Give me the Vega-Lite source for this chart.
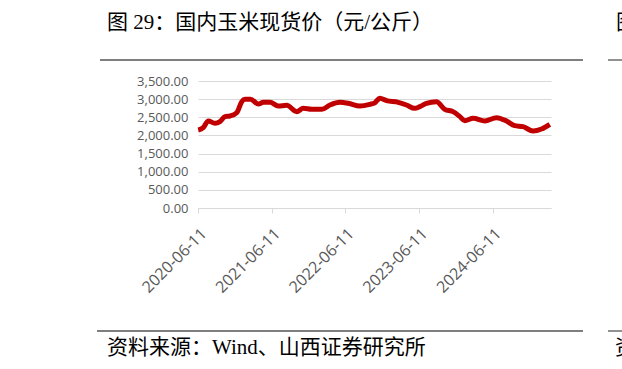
{
  "$schema": "https://vega.github.io/schema/vega-lite/v6.json",
  "autosize": "none",
  "width": 353,
  "height": 127,
  "padding": {"left": 198, "top": 81, "right": 71, "bottom": 161},
  "background": "white",
  "config": {"view": {"stroke": null}},
  "layer": [
    {
      "data": {"values": [
        {"date": "2020-06-12", "price": 2150},
        {"date": "2020-07-07", "price": 2213},
        {"date": "2020-08-01", "price": 2398},
        {"date": "2020-09-03", "price": 2334},
        {"date": "2020-09-28", "price": 2380},
        {"date": "2020-10-23", "price": 2518},
        {"date": "2020-11-17", "price": 2536},
        {"date": "2020-12-20", "price": 2627},
        {"date": "2021-01-14", "price": 2930},
        {"date": "2021-01-30", "price": 2995},
        {"date": "2021-02-27", "price": 2995},
        {"date": "2021-04-06", "price": 2866},
        {"date": "2021-05-01", "price": 2912},
        {"date": "2021-06-03", "price": 2912},
        {"date": "2021-07-14", "price": 2811},
        {"date": "2021-08-25", "price": 2830},
        {"date": "2021-10-14", "price": 2655},
        {"date": "2021-11-15", "price": 2747},
        {"date": "2021-12-27", "price": 2720},
        {"date": "2022-02-15", "price": 2720},
        {"date": "2022-03-28", "price": 2839},
        {"date": "2022-05-16", "price": 2912},
        {"date": "2022-06-27", "price": 2885},
        {"date": "2022-08-23", "price": 2811},
        {"date": "2022-10-11", "price": 2857},
        {"date": "2022-11-05", "price": 2900},
        {"date": "2022-11-30", "price": 3023},
        {"date": "2023-01-02", "price": 2958},
        {"date": "2023-03-01", "price": 2912},
        {"date": "2023-04-11", "price": 2839},
        {"date": "2023-05-22", "price": 2747},
        {"date": "2023-06-16", "price": 2793},
        {"date": "2023-07-19", "price": 2885},
        {"date": "2023-09-07", "price": 2930},
        {"date": "2023-10-18", "price": 2720},
        {"date": "2023-11-28", "price": 2655},
        {"date": "2024-01-01", "price": 2518},
        {"date": "2024-01-25", "price": 2407},
        {"date": "2024-03-07", "price": 2472},
        {"date": "2024-05-04", "price": 2398},
        {"date": "2024-07-01", "price": 2490},
        {"date": "2024-08-19", "price": 2398},
        {"date": "2024-09-29", "price": 2269},
        {"date": "2024-11-09", "price": 2241},
        {"date": "2024-12-29", "price": 2122},
        {"date": "2025-02-09", "price": 2177},
        {"date": "2025-03-22", "price": 2306}
      ]},
      "mark": {"type": "line", "color": "#C00000", "strokeWidth": 5, "interpolate": "monotone"},
      "encoding": {
        "x": {
          "field": "date", "type": "temporal",
          "scale": {"domain": ["2020-06-11", "2025-03-28"]},
          "axis": {
            "title": null,
            "values": ["2020-06-11", "2021-06-11", "2022-06-11", "2023-06-11", "2024-06-11"],
            "format": "%Y-%m-%d",
            "labelAngle": -45,
            "labelFont": "Open Sans",
            "labelFontSize": 16,
            "labelColor": "#595959",
            "labelPadding": 12,
            "tickColor": "#d9d9d9",
            "tickSize": 5,
            "domainColor": "#d9d9d9",
            "grid": false,
            "labelFlush": false,
            "labelOverlap": false
          }
        },
        "y": {
          "field": "price", "type": "quantitative",
          "scale": {"domain": [0, 3500]},
          "axis": {
            "title": null,
            "values": [0, 500, 1000, 1500, 2000, 2500, 3000, 3500],
            "format": ",.2f",
            "labelFont": "Open Sans",
            "labelFontSize": 13,
            "labelColor": "#595959",
            "labelPadding": 10,
            "ticks": false,
            "domain": false,
            "grid": true,
            "gridColor": "#d9d9d9",
            "gridWidth": 1
          }
        }
      }
    },
    {
      "data": {"values": [
        {"x1": -98, "x2": 385, "y": -21},
        {"x1": 410, "x2": 424, "y": -21},
        {"x1": -101, "x2": 385, "y": 250},
        {"x1": 410, "x2": 424, "y": 250}
      ]},
      "mark": {"type": "rule", "color": "#555555", "strokeWidth": 1.3},
      "encoding": {
        "x": {"field": "x1", "type": "quantitative", "scale": null},
        "x2": {"field": "x2"},
        "y": {"field": "y", "type": "quantitative", "scale": null}
      }
    },
    {
      "data": {"values": [
        {"t": "图 29：国内玉米现货价（元/公斤）", "x": -91, "y": -58},
        {"t": "资料来源：Wind、山西证券研究所", "x": -91, "y": 267},
        {"t": "图", "x": 418, "y": -58},
        {"t": "资", "x": 417, "y": 267}
      ]},
      "mark": {"type": "text", "align": "left", "baseline": "middle", "font": "Liberation Serif, Noto Sans CJK SC", "fontSize": 21, "color": "#000000"},
      "encoding": {
        "x": {"field": "x", "type": "quantitative", "scale": null},
        "y": {"field": "y", "type": "quantitative", "scale": null},
        "text": {"field": "t"}
      }
    }
  ]
}
